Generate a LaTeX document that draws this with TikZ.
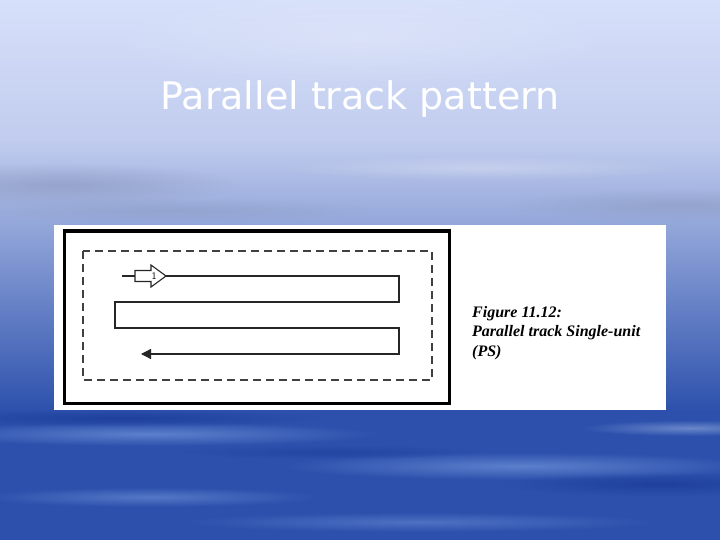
\documentclass[tikz,border=0pt]{standalone}
\usepackage{fontspec}
\setmainfont{Liberation Serif}
\newfontfamily\slidefont{DejaVu Sans}
\usetikzlibrary{arrows.meta,fadings}
\definecolor{skytop}{HTML}{D7E0FA}
\definecolor{skymid}{HTML}{C1CCEE}
\definecolor{skylow}{HTML}{90A4D8}
\definecolor{seadeep}{HTML}{2C50AC}
\definecolor{seastreak}{HTML}{6688D2}
\definecolor{seadark}{HTML}{1B3C98}
\definecolor{haze}{HTML}{8E9CC2}
\tikzfading[name=softspot, inner color=transparent!0, outer color=transparent!100]
\tikzset{
  track/.style={line width=1.3pt, draw=black!85},
  searchbox/.style={dash pattern=on 8pt off 5pt, line width=1.6pt, draw=black!75},
  caption/.style={anchor=base west, inner sep=0pt, font=\fontsize{16}{18}\selectfont\bfseries\itshape},
  streak/.style={path fading=softspot},
}
% #1-x  #2-y  #3-colour  #4-half length  #5-half height  #6-opacity
\newcommand{\streak}[6]{%
    \fill[#3, opacity=#6, streak] (#1,#2) ellipse ({#4} and {#5});
}
% #1-x of tail  #2-y of axis  #3-name of label
\newcommand{\openarrow}[3]{%
    \draw[fill=white, line width=1.1pt, draw=black!85]
        (#1,#2-5.5) -- (#1+16,#2-5.5) -- (#1+16,#2-11) -- (#1+31,#2)
        -- (#1+16,#2+11) -- (#1+16,#2+5.5) -- (#1,#2+5.5) -- cycle;
    \node[inner sep=0pt, font=\fontsize{10}{10}\selectfont\sffamily] (#3) at (#1+19,#2+0.5) {1};
}

\begin{document}
\begin{tikzpicture}[x=1pt, y=-1pt]
    \useasboundingbox (0,0) rectangle (720,540);
    % sky and sea
    \shade[top color=skytop, bottom color=skymid] (0,0) rectangle (720,140);
    \shade[top color=skymid, bottom color=skylow] (0,140) rectangle (720,230);
    \shade[top color=skylow, bottom color=seadeep] (0,230) rectangle (720,412);
    \fill[seadeep] (0,412) rectangle (720,540);
    \streak{60}{185}{haze}{180}{22}{0.7}
    \streak{170}{210}{haze}{200}{12}{0.5}
    \streak{680}{205}{haze}{170}{16}{0.6}
    \streak{480}{168}{white}{200}{12}{0.25}
    \streak{360}{40}{white}{260}{50}{0.2}
    \streak{150}{434}{seastreak}{230}{12}{0.85}
    \streak{520}{466}{seastreak}{240}{14}{0.85}
    \streak{150}{497}{seastreak}{170}{10}{0.7}
    \streak{420}{522}{seastreak}{240}{10}{0.6}
    \streak{120}{418}{seadark}{200}{9}{0.75}
    \streak{660}{484}{seadark}{160}{12}{0.75}
    \streak{330}{452}{seadark}{150}{7}{0.5}
    \streak{690}{428}{seastreak!70!white}{110}{8}{0.6}
    % title
    \node[text=white, font=\slidefont\fontsize{38}{40}\selectfont, anchor=base] (title) at (360,110) {Parallel track pattern};
    % figure panel
    \fill[white] (54,225) rectangle (666,410);
    \draw[line width=3pt] (64,231) rectangle (449,403);
    \draw[searchbox] (83,251) rectangle (432,380);
    \draw[track, -{Triangle[length=10pt, width=10pt]}]
        (122,276) -- (399,276) -- (399,302) -- (115,302) -- (115,328)
        -- (399,328) -- (399,354) -- (141,354);
    \openarrow{135}{276}{start}
    % caption
    \node[caption] (fig) at (472,317) {Figure 11.12:};
    \node[caption] (name) at (472,336) {Parallel track Single-unit};
    \node[caption] (abbr) at (472,356) {(PS)};
\end{tikzpicture}
\end{document}
